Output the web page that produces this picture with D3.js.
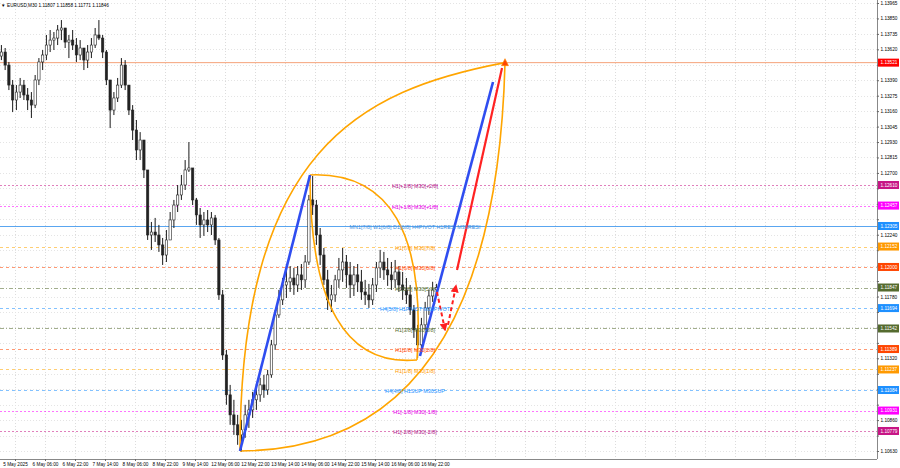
<!DOCTYPE html>
<html><head><meta charset="utf-8">
<script src="https://cdn.jsdelivr.net/npm/d3@7/dist/d3.min.js"></script>
<style>
body{margin:0;background:#fff;}
svg{display:block;font-family:"Liberation Sans",Arial,sans-serif;}
</style>
</head><body>
<svg id="c" width="900" height="468"></svg>
<script>
// ---------- DATA ----------
const symbol = "EURUSD,M30";
const lastOHLC = [1.11807, 1.11858, 1.11771, 1.11846];

const timeLabels = ["5 May 2025","6 May 06:00","6 May 22:00","7 May 14:00","8 May 06:00","8 May 22:00",
  "9 May 14:00","12 May 06:00","12 May 22:00","13 May 14:00","14 May 06:00","14 May 22:00",
  "15 May 14:00","16 May 06:00","16 May 22:00"];

const priceTicks = [1.13965,1.13850,1.13735,1.13620,1.13505,1.13390,1.13275,1.13160,1.13045,1.12930,
  1.12815,1.12700,1.12585,1.12470,1.12355,1.12240,1.12125,1.12010,1.11895,1.11780,1.11665,1.11550,
  1.11435,1.11320,1.11205,1.11090,1.10975,1.10860,1.10745,1.10630];

// 2-hour bars (open = previous close)
const firstOpen = 1.13570;
const highs = [
1.13652,1.13630,1.13526,1.13392,1.13354,1.13407,1.13392,1.13332,1.13302,1.13429,
1.13555,1.13615,1.13727,1.13764,1.13749,1.13801,1.13838,1.13779,1.13727,1.13764,
1.13704,1.13689,1.13630,1.13652,1.13704,1.13779,1.13838,1.13727,1.13615,1.13354,
1.13302,1.13407,1.13555,1.13540,1.13354,1.13205,1.13094,1.13004,1.12945,1.12722,
1.12335,1.12365,1.12313,1.12216,1.12275,1.12409,1.12499,1.12610,1.12685,1.12796,
1.12930,1.12685,1.12514,1.12439,1.12409,1.12424,1.12409,1.12387,1.12216,1.11829,
1.11383,1.11122,1.11011,1.10899,1.10862,1.10974,1.11011,1.11070,1.11122,1.11175,
1.11197,1.11234,1.11457,1.11680,1.11829,1.11918,1.11978,1.12007,1.11993,1.12007,
1.12022,1.12089,1.12536,1.12677,1.12499,1.12290,1.12141,1.11978,1.11866,1.11941,
1.12067,1.12141,1.12089,1.12037,1.12007,1.12022,1.11978,1.11904,1.11874,1.11918,
1.12037,1.12127,1.12112,1.12067,1.12037,1.12052,1.12007,1.11963,1.11918,1.11866,
1.11717,1.11569,1.11621,1.11740,1.11829,1.11889,1.11874];
const lows = [
1.13540,1.13466,1.13317,1.13153,1.13168,1.13258,1.13243,1.13168,1.13109,1.13183,
1.13354,1.13466,1.13540,1.13600,1.13615,1.13652,1.13689,1.13630,1.13555,1.13615,
1.13526,1.13540,1.13466,1.13481,1.13555,1.13630,1.13689,1.13555,1.13354,1.13034,
1.13131,1.13228,1.13332,1.13317,1.13131,1.12945,1.12796,1.12796,1.12662,1.12201,
1.12127,1.12186,1.12112,1.12015,1.12037,1.12201,1.12290,1.12409,1.12499,1.12573,
1.12707,1.12461,1.12313,1.12216,1.12231,1.12260,1.12238,1.12164,1.11755,1.11308,
1.10974,1.10825,1.10750,1.10676,1.10624,1.10728,1.10802,1.10876,1.10936,1.10996,
1.11026,1.11048,1.11175,1.11383,1.11621,1.11717,1.11769,1.11814,1.11792,1.11814,
1.11829,1.11844,1.12015,1.12387,1.12164,1.12015,1.11866,1.11680,1.11665,1.11740,
1.11844,1.11889,1.11844,1.11769,1.11784,1.11814,1.11755,1.11717,1.11695,1.11717,
1.11814,1.11918,1.11904,1.11859,1.11829,1.11844,1.11814,1.11755,1.11725,1.11643,
1.11472,1.11323,1.11397,1.11532,1.11643,1.11740,1.11784];
const closes = [
1.13600,1.13503,1.13354,1.13243,1.13302,1.13354,1.13280,1.13243,1.13205,1.13392,
1.13526,1.13578,1.13652,1.13689,1.13704,1.13764,1.13779,1.13674,1.13689,1.13652,
1.13578,1.13630,1.13540,1.13600,1.13652,1.13727,1.13704,1.13600,1.13392,1.13168,
1.13258,1.13354,1.13503,1.13354,1.13168,1.13019,1.12871,1.12945,1.12722,1.12238,
1.12260,1.12238,1.12164,1.12089,1.12201,1.12350,1.12461,1.12536,1.12610,1.12722,
1.12737,1.12499,1.12387,1.12313,1.12350,1.12313,1.12365,1.12201,1.11792,1.11345,
1.11048,1.10899,1.10825,1.10750,1.10788,1.10899,1.10936,1.11011,1.11048,1.11122,
1.11085,1.11197,1.11420,1.11643,1.11755,1.11866,1.11889,1.11918,1.11866,1.11941,
1.11904,1.12037,1.12499,1.12461,1.12238,1.12089,1.11904,1.11755,1.11792,1.11904,
1.11978,1.12037,1.11941,1.11866,1.11941,1.11889,1.11814,1.11792,1.11755,1.11866,
1.11993,1.12037,1.11978,1.11941,1.11904,1.11963,1.11866,1.11829,1.11792,1.11680,
1.11532,1.11420,1.11569,1.11695,1.11784,1.11829,1.11846];

// Murrey-style levels
const levelPrices = [1.12610,1.12457,1.12305,1.12152,1.12000,1.11847,1.11694,1.11542,1.11389,1.11237,1.11084,1.10931,1.10779];
const levelTexts = ["H1[+2/8] M30[+2/8]","H1[+1/8] M30[+1/8]","MN1[7/8] W1[6/8] D1[6/8] H4PIVOT H1RESI M30RESI",
  "H1[7/8] M30[7/8]","H1[6/8] M30[6/8]","H1[5/8] M30[5/8]","H4[5/8] H1PIVOT M30PIVOT","H1[3/8] M30[3/8]",
  "H1[2/8] M30[2/8]","H1[1/8] M30[1/8]","H4[4/8] H1SUP M30SUP","H1[-1/8] M30[-1/8]","H1[-2/8] M30[-2/8]"];
const levelKinds = ["p2","p1","main","o","r","g","b","g","r","o","b","p1","p2"];
const targetPrice = 1.13521;

// drawing anchors: [bar index (M30), price]
const bigLeafStart = [256, 1.10630], bigLeafEnd = [538.7, 1.13521];
const bigLeafUpperCtrl1 = [256, 1.12871], bigLeafUpperCtrl2 = [384, 1.13317];
const bigLeafLowerCtrl = [528, 1.10639];
const innerLeafStart = [330.7, 1.12685], innerLeafEnd = [444.8, 1.11308];
const innerLeafRightCtrl = [458.7, 1.12722], innerLeafLeftCtrl = [330.7, 1.11234];
const blueLine1 = [[256, 1.10630], [330.7, 1.12685]];
const blueLine2 = [[448, 1.11337], [525.9, 1.13377]];
const redLine = [[487.5, 1.11978], [535.5, 1.13481]];
const dashDown = [[466.1, 1.11814], [474.7, 1.11532]];
const dashUp = [[477.9, 1.11569], [486.4, 1.11859]];
const labelBarIndex = 442.7;

// ---------- STYLES ----------
const kindStyle = {
  p2:  {color:"#c71585", dash:"2,2", text:"#b0208a", box:"#c71585"},
  p1:  {color:"#ff00ff", dash:"2,2", text:"#e000e0", box:"#ff00ff"},
  main:{color:"#5aa6f0", dash:null,  text:"#3d8fe0", box:"#1e90ff"},
  o:   {color:"#ffa500", dash:"3,3", text:"#ff9a00", box:"#ff9900"},
  r:   {color:"#ff4500", dash:"3,3", text:"#ff4500", box:"#ff4500"},
  g:   {color:"#556b2f", dash:"4,2,1,2", text:"#556b2f", box:"#556b2f"},
  b:   {color:"#1e90ff", dash:"3,3", text:"#1e90ff", box:"#1e90ff"}
};
const FS = 4.7;

// ---------- CHART ----------
const W = 900, H = 468, plotR = 877, plotB = 459;
const svg = d3.select("#c");
const x = d3.scaleLinear().domain([0, 935.5]).range([0, plotR]);
const y = d3.scaleLinear().domain([1.10630, 1.13965]).range([451, 3]);
const P = d => [x(d[0]), y(d[1])];

svg.append("rect").attr("width", W).attr("height", H).attr("fill", "#fff");

// grid
const gridIdx = d3.range(0, 29).map(k => 16 + 32 * k);
svg.append("g").selectAll("line").data(gridIdx).join("line")
  .attr("x1", d => Math.round(x(d)) + 0.5).attr("x2", d => Math.round(x(d)) + 0.5)
  .attr("y1", 0).attr("y2", plotB)
  .attr("stroke", "#dcdcdc").attr("stroke-dasharray", "1,2");
svg.append("g").selectAll("line").data(priceTicks).join("line")
  .attr("x1", 0).attr("x2", plotR)
  .attr("y1", d => Math.round(y(d)) + 0.5).attr("y2", d => Math.round(y(d)) + 0.5)
  .attr("stroke", "#e4e4e4").attr("stroke-dasharray", "1,2");

// level lines
svg.append("line").attr("x1", 0).attr("x2", plotR)
  .attr("y1", y(targetPrice)).attr("y2", y(targetPrice))
  .attr("stroke", "#f5a27a").attr("stroke-width", 1);
svg.append("g").selectAll("line").data(levelPrices).join("line")
  .attr("x1", 0).attr("x2", plotR)
  .attr("y1", d => Math.round(y(d)) + 0.5).attr("y2", d => Math.round(y(d)) + 0.5)
  .attr("stroke", (d, i) => kindStyle[levelKinds[i]].color)
  .attr("stroke-opacity", (d, i) => levelKinds[i] === "main" ? 1 : 0.55)
  .attr("stroke-dasharray", (d, i) => kindStyle[levelKinds[i]].dash);

// candles
const bars = highs.map((h, i) => ({
  idx: 4 * i + 1.5, h, l: lows[i], c: closes[i], o: i ? closes[i - 1] : firstOpen
}));
const bw = (x(4) - x(0)) * 0.62;
const cg = svg.append("g");
cg.selectAll("line").data(bars).join("line")
  .attr("x1", d => x(d.idx)).attr("x2", d => x(d.idx))
  .attr("y1", d => y(d.h)).attr("y2", d => y(d.l))
  .attr("stroke", "#1a1a1a").attr("stroke-width", 1);
cg.selectAll("rect").data(bars).join("rect")
  .attr("x", d => x(d.idx) - bw / 2).attr("width", bw)
  .attr("y", d => y(Math.max(d.o, d.c)))
  .attr("height", d => Math.max(0.8, Math.abs(y(d.o) - y(d.c))))
  .attr("fill", d => d.c >= d.o ? "#fff" : "#222")
  .attr("stroke", "#222").attr("stroke-width", 0.6);

// leaf curves
function quad(a, c, b) {
  const p = d3.path(); const A = P(a), C = P(c), B = P(b);
  p.moveTo(A[0], A[1]); p.quadraticCurveTo(C[0], C[1], B[0], B[1]); return p.toString();
}
function cubic(a, c1, c2, b) {
  const p = d3.path(); const A = P(a), C1 = P(c1), C2 = P(c2), B = P(b);
  p.moveTo(A[0], A[1]); p.bezierCurveTo(C1[0], C1[1], C2[0], C2[1], B[0], B[1]); return p.toString();
}
const curvePaths = [
  cubic(bigLeafStart, bigLeafUpperCtrl1, bigLeafUpperCtrl2, bigLeafEnd),
  quad(bigLeafStart, bigLeafLowerCtrl, bigLeafEnd),
  quad(innerLeafStart, innerLeafRightCtrl, innerLeafEnd),
  quad(innerLeafStart, innerLeafLeftCtrl, innerLeafEnd)
];
svg.append("g").selectAll("path").data(curvePaths).join("path")
  .attr("d", d => d)
  .attr("fill", "none").attr("stroke", "#ffa500").attr("stroke-width", 1.6);

// markers
const defs = svg.append("defs");
defs.append("marker").attr("id", "ah").attr("viewBox", "0 0 10 10").attr("refX", 8).attr("refY", 5)
  .attr("markerWidth", 4).attr("markerHeight", 4).attr("orient", "auto")
  .append("path").attr("d", "M0,0 L10,5 L0,10 z").attr("fill", "#ff2020");

const line = d3.line().x(d => x(d[0])).y(d => y(d[1]));
svg.append("path").attr("d", line(blueLine1)).attr("stroke", "#2f4df0").attr("stroke-width", 2.6).attr("fill", "none");
svg.append("path").attr("d", line(blueLine2)).attr("stroke", "#2f4df0").attr("stroke-width", 2.6).attr("fill", "none");
svg.append("path").attr("d", line(redLine)).attr("stroke", "#ff2222").attr("stroke-width", 2.2).attr("fill", "none");
[dashDown, dashUp].forEach(seg => {
  svg.append("path").attr("d", line(seg)).attr("stroke", "#ff2020").attr("stroke-width", 2)
    .attr("stroke-dasharray", "4,3").attr("fill", "none").attr("marker-end", "url(#ah)");
});
// target arrow mark
const T = P(bigLeafEnd);
svg.append("path").attr("d", `M${T[0]},${T[1] - 4} L${T[0] + 3.5},${T[1] + 3} L${T[0] - 3.5},${T[1] + 3} Z`)
  .attr("fill", "#ff4500").attr("stroke", "#ff8c00").attr("stroke-width", 0.6);

// level texts
svg.append("g").selectAll("text").data(levelPrices).join("text")
  .attr("x", x(labelBarIndex)).attr("y", d => y(d) + 2)
  .attr("text-anchor", "middle").attr("dominant-baseline", "middle")
  .attr("font-size", 5.4).attr("fill", (d, i) => kindStyle[levelKinds[i]].text)
  .text((d, i) => levelTexts[i]);

// axes frame
svg.append("line").attr("x1", plotR + 0.5).attr("x2", plotR + 0.5).attr("y1", 0).attr("y2", plotB)
  .attr("stroke", "#888");
svg.append("line").attr("x1", 0).attr("x2", plotR).attr("y1", plotB + 0.5).attr("y2", plotB + 0.5)
  .attr("stroke", "#888");

// colored price boxes data
const boxes = [{p: targetPrice, c: "#ff0000"}].concat(levelPrices.map((p, i) => ({p, c: kindStyle[levelKinds[i]].box})));

// price axis (tick labels hidden behind a coloured box are skipped, as in the reference)
const visibleTicks = priceTicks.filter(t => boxes.every(b => Math.abs(y(t) - y(b.p)) > 7.5));
const yAxis = d3.axisRight(y).tickValues(priceTicks).tickSize(2).tickPadding(1.5)
  .tickFormat(d => visibleTicks.includes(d) ? d3.format(".5f")(d) : "");
const ya = svg.append("g").attr("transform", `translate(${plotR},0)`).call(yAxis);
ya.select(".domain").remove();
ya.selectAll("line").attr("stroke", "#666");
ya.selectAll("text").attr("font-size", FS).attr("fill", "#000").attr("font-family", "Liberation Sans, Arial");

// time axis
const timeIdx = timeLabels.map((d, k) => 16 + 32 * k);
const xAxis = d3.axisBottom(x).tickValues(timeIdx).tickFormat((d, i) => timeLabels[i]).tickSize(2).tickPadding(1.5);
const xa = svg.append("g").attr("transform", `translate(0,${plotB})`).call(xAxis);
xa.select(".domain").remove();
xa.selectAll("line").attr("stroke", "#666");
xa.selectAll("text").attr("font-size", FS).attr("fill", "#000").attr("font-family", "Liberation Sans, Arial");

// coloured price boxes
const bg = svg.append("g").selectAll("g").data(boxes).join("g")
  .attr("transform", d => `translate(${plotR + 1},${y(d.p)})`);
bg.append("rect").attr("x", 0).attr("y", -4).attr("width", 21).attr("height", 8).attr("fill", d => d.c);
bg.append("text").attr("x", 2.5).attr("y", 0.3).attr("dominant-baseline", "middle")
  .attr("font-size", FS).attr("fill", "#fff").text(d => d3.format(".5f")(d.p));

// header
svg.append("text").attr("x", 1).attr("y", 6.5).attr("font-size", 4.5).attr("fill", "#000").text("▼");
svg.append("text").attr("x", 7).attr("y", 6.5).attr("font-size", FS).attr("fill", "#000")
  .text(symbol + "  " + lastOHLC.map(d3.format(".5f")).join(" "));
</script>
</body></html>
